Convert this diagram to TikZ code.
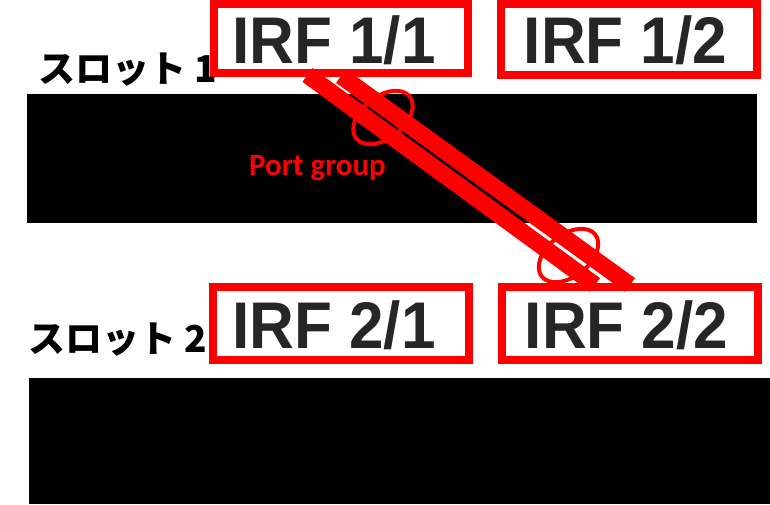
\documentclass[tikz,border=0pt]{standalone}
\usepackage{fontspec}
\newfontfamily\irffont{Liberation Sans}
\newfontfamily\pgfont{Carlito}
\newfontfamily\cjkfont{Noto Sans CJK JP}
\definecolor{irfgray}{HTML}{262626}
\definecolor{pred}{HTML}{FF0000}
\begin{document}
\begin{tikzpicture}[x=1pt,y=-1pt,
  irfbox/.style={draw=pred, line width=8pt, fill=white, inner sep=0pt},
  irftext/.style={anchor=base, inner sep=0pt, xscale=0.94, text=irfgray, font=\irffont\bfseries\fontsize{66}{66}\selectfont},
  slottext/.style={anchor=base west, inner sep=0pt, font=\cjkfont\bfseries\fontsize{37}{37}\selectfont},
  cable/.style={draw=pred, line width=17pt},
  ring/.style={draw=pred, line width=4pt},
  pgtext/.style={anchor=base, inner sep=0pt, text=pred, font=\pgfont\bfseries\fontsize{31}{31}\selectfont}]
\useasboundingbox (0,0) rectangle (770,504);
% slot bars
\fill[black] (27,94) rectangle (757,223);
\fill[black] (29,378) rectangle (770,504);
% IRF boxes
\node[irfbox, minimum width=254pt, minimum height=69pt] (b11) at (341,38.5) {};
\node[irfbox, minimum width=256pt, minimum height=71pt] (b12) at (629,39.5) {};
\node[irfbox, minimum width=256pt, minimum height=73pt] (b21) at (341,323.5) {};
\node[irfbox, minimum width=256pt, minimum height=73pt] (b22) at (630,323.5) {};
\node[irftext] (t11) at (334,63) {IRF 1/1};
\node[irftext] (t12) at (625.5,63) {IRF 1/2};
\node[irftext] (t21) at (334,348) {IRF 2/1};
\node[irftext] (t22) at (626.5,348) {IRF 2/2};
% slot labels
\node[slottext] (s1) at (38,82) {スロット 1};
\node[slottext] (s2) at (28,352) {スロット 2};
% cables
\coordinate (c1a) at (307.5,75);
\coordinate (c1b) at (595,285);
\coordinate (c2a) at (341,76);
\coordinate (c2b) at (630,285);
\draw[cable] (c1a) -- (c1b);
\draw[cable] (c2a) -- (c2b);
% port group rings
\coordinate (r1) at (383,117.5);
\coordinate (r2) at (568.5,255.5);
\draw[ring, rotate around={38:(r1)}] (r1) ellipse [x radius=34pt, y radius=21pt];
\draw[ring, rotate around={38:(r2)}] (r2) ellipse [x radius=34pt, y radius=21pt];
\node[pgtext] (pg) at (317.5,175) {Port group};
\end{tikzpicture}
\end{document}
